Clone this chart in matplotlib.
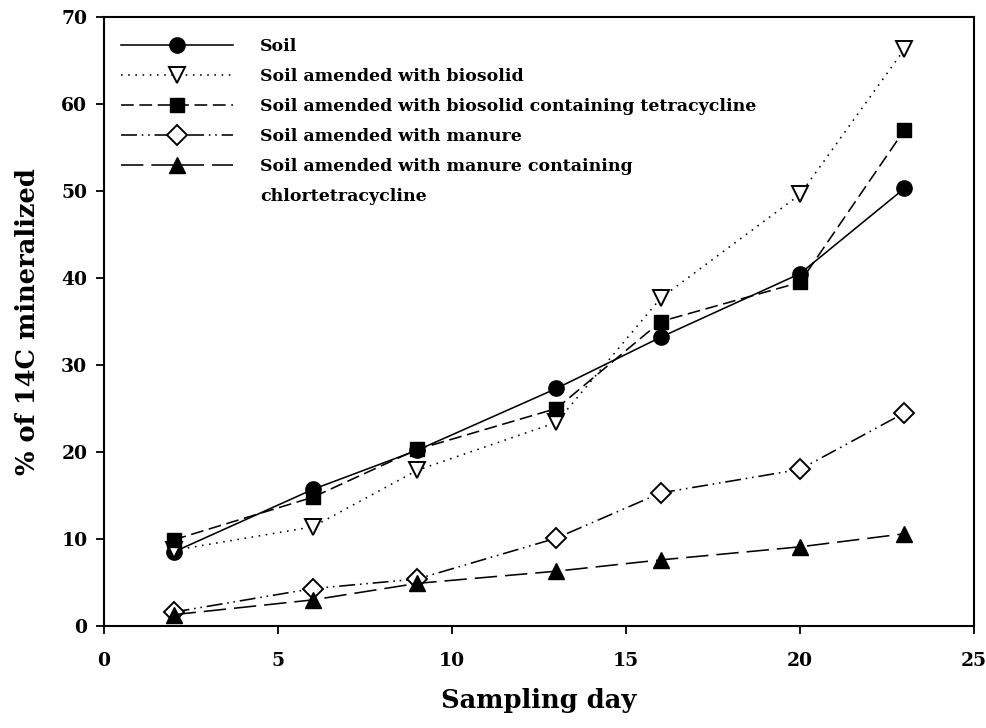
import matplotlib
matplotlib.use("Agg")
import matplotlib.pyplot as plt
from matplotlib.lines import Line2D

days = [2, 6, 9, 13, 16, 20, 23]
soil = [8.5, 15.7, 20.2, 27.3, 33.2, 40.5, 50.3]
biosolid = [8.7, 11.4, 17.9, 23.4, 37.7, 49.6, 66.3]
biosolid_tc = [9.9, 14.8, 20.3, 25.0, 35.0, 39.5, 57.0]
manure = [1.6, 4.3, 5.4, 10.1, 15.3, 18.0, 24.5]
manure_ctc = [1.3, 3.0, 4.9, 6.3, 7.6, 9.1, 10.6]

labels = ["Soil",
          "Soil amended with biosolid",
          "Soil amended with biosolid containing tetracycline",
          "Soil amended with manure",
          "Soil amended with manure containing",
          "chlortetracycline"]
xticks = [0, 5, 10, 15, 20, 25]
yticks = [0, 10, 20, 30, 40, 50, 60, 70]

plt.rcParams['font.family'] = ['DejaVu Serif']
plt.rcParams['font.weight'] = 'bold'

fig = plt.figure(figsize=(9.87, 7.28), dpi=100)
ax = fig.add_axes([104/987, 1-626/728, (974-104)/987, (626-17)/728])

lw = 1.15
h1, = ax.plot(days, soil, color='black', lw=lw, ls='-', marker='o', ms=11,
              mfc='black', mec='black', zorder=3)
h2, = ax.plot(days, biosolid, color='black', lw=lw, ls=(0, (1, 3.5)), marker='v', ms=11,
              mfc='white', mec='black', mew=1.4, zorder=3)
h3, = ax.plot(days, biosolid_tc, color='black', lw=lw, ls=(0, (8, 3.5)), marker='s', ms=10.5,
              mfc='black', mec='black', zorder=3)
h4, = ax.plot(days, manure, color='black', lw=lw, ls=(0, (10, 3, 1, 3, 1, 3)), marker='D', ms=10,
              mfc='white', mec='black', mew=1.4, zorder=3)
h5, = ax.plot(days, manure_ctc, color='black', lw=lw, ls=(0, (14, 5)), marker='^', ms=11,
              mfc='black', mec='black', zorder=3)
blank = Line2D([], [], ls='none', marker=None)

ax.set_xlim(0, 25)
ax.set_ylim(0, 70)
ax.set_xticks(xticks)
ax.set_yticks(yticks)
ax.tick_params(direction='out', length=6, width=1.3, labelsize=13.5)
ax.tick_params(axis='x', pad=13)
ax.tick_params(axis='y', pad=6)
for lab in ax.get_xticklabels() + ax.get_yticklabels():
    lab.set_fontweight('bold')
for s in ax.spines.values():
    s.set_linewidth(1.5)

ax.set_xlabel("Sampling day", fontsize=18.5, fontweight='bold', labelpad=13)
ax.set_ylabel("% of 14C mineralized", fontsize=18.5, fontweight='bold', labelpad=15)

leg = ax.legend([h1, h2, h3, h4, h5, blank], labels,
                loc='upper left', bbox_to_anchor=(-0.004, 1.0), borderaxespad=0,
                frameon=False, prop={'size': 12.5, 'weight': 'bold'},
                handlelength=6.45, handletextpad=1.55, labelspacing=0.75,
                borderpad=1.2)

fig.savefig("out.png", dpi=100)
